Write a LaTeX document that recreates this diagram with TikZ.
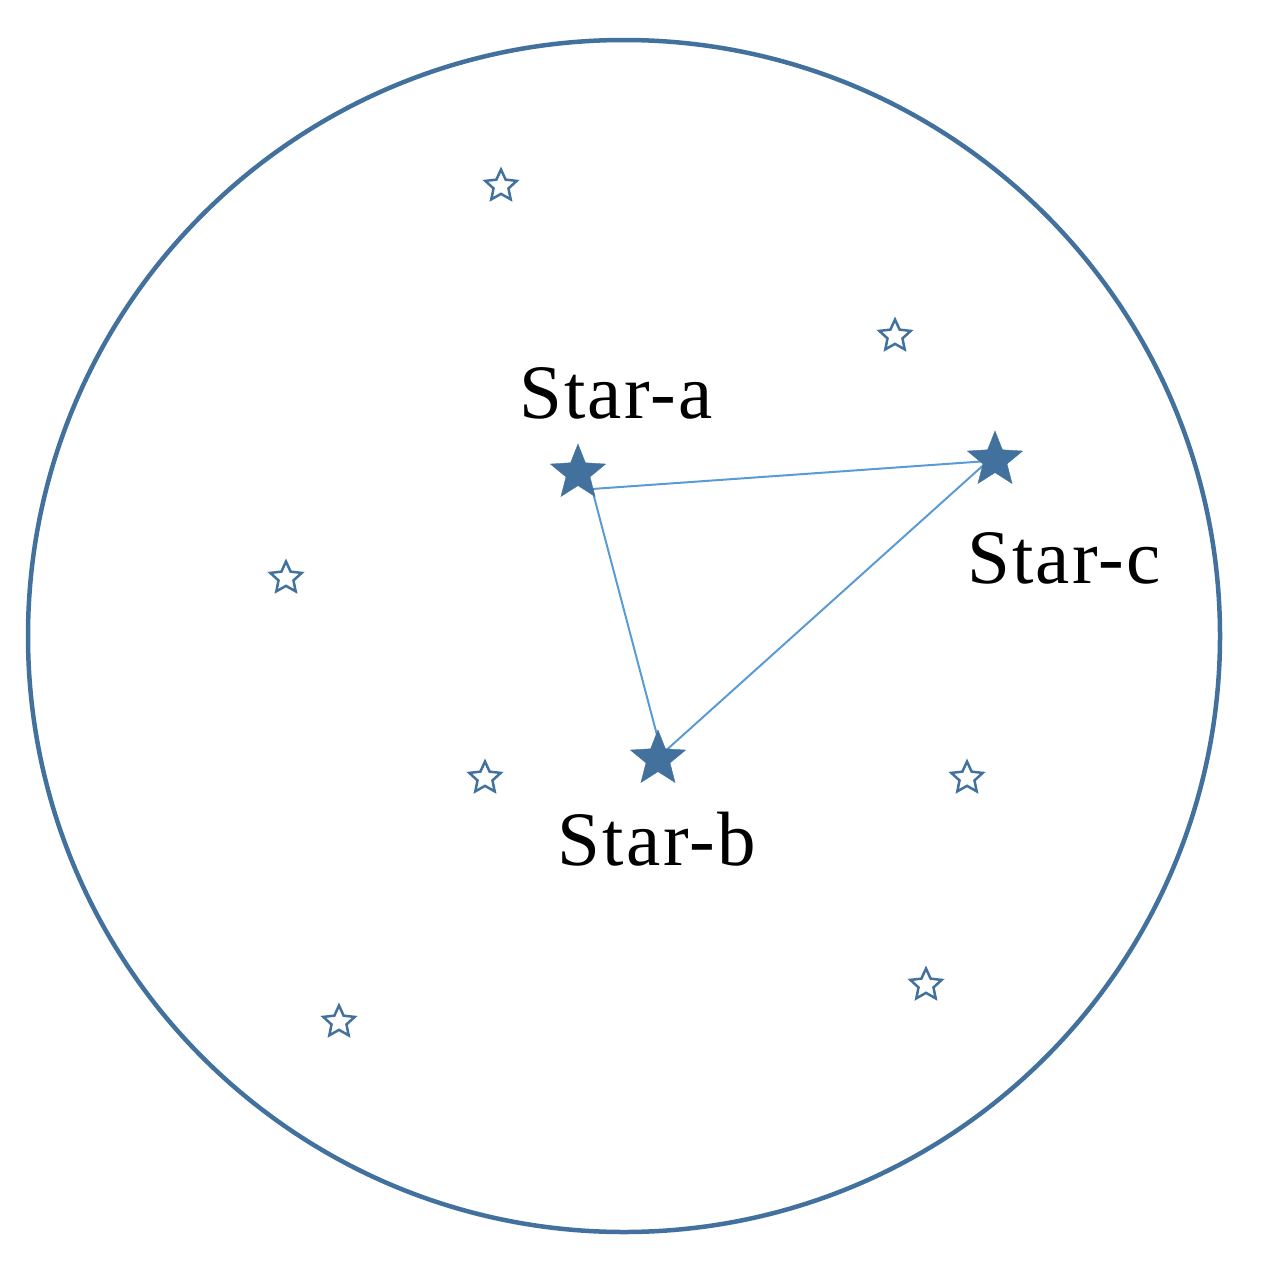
\documentclass[tikz,border=0pt]{standalone}
\usepackage{fontspec}
\setmainfont{Liberation Serif}
\usetikzlibrary{shapes.geometric}
\definecolor{ringblue}{HTML}{41719C}
\definecolor{linkblue}{HTML}{5B9BD5}
\pgfdeclarelayer{links}
\pgfsetlayers{links,main}

\begin{document}
\begin{tikzpicture}[x=1pt, y=-1pt,
  bigstar/.style = {star, star points=5, star point ratio=2.3,
    minimum size=58pt, inner sep=0pt, fill=ringblue, draw=ringblue},
  faintstar/.style = {star, star points=5, star point ratio=2.1,
    minimum size=33pt, inner sep=0pt, draw=ringblue, line width=2.5pt},
  starlabel/.style = {font=\fontsize{77}{80}\selectfont\addfontfeature{LetterSpace=3},
    anchor=base, inner sep=0pt},
  link/.style = {draw=linkblue, line width=2pt}]
  \useasboundingbox (0,0) rectangle (1263,1266);
  \node (sky) [circle, draw=ringblue, line width=4.5pt, minimum size=1192pt, inner sep=0pt] at (624,636) {};

  % the three named stars
  \node (a) [bigstar] at (578,473) {};
  \node (b) [bigstar] at (658,759) {};
  \node (c) [bigstar] at (995,460) {};
  \begin{pgfonlayer}{links}
    \draw[link] ([shift={(14,16)}]a.center) -- ([shift={(-7,1)}]c.center)
      -- ([shift={(4,-5)}]b.center) -- cycle;
  \end{pgfonlayer}

  \node (la) [starlabel] at (616,418) {Star-a};
  \node (lb) [starlabel] at (657,865) {Star-b};
  \node (lc) [starlabel] at (1064,583) {Star-c};

  % background stars
  \node (s1) [faintstar] at (501,186) {};
  \node (s2) [faintstar] at (895,336) {};
  \node (s3) [faintstar] at (286,578) {};
  \node (s4) [faintstar] at (485,778) {};
  \node (s5) [faintstar] at (967,778) {};
  \node (s6) [faintstar] at (339,1022) {};
  \node (s7) [faintstar] at (926,985) {};
\end{tikzpicture}
\end{document}
